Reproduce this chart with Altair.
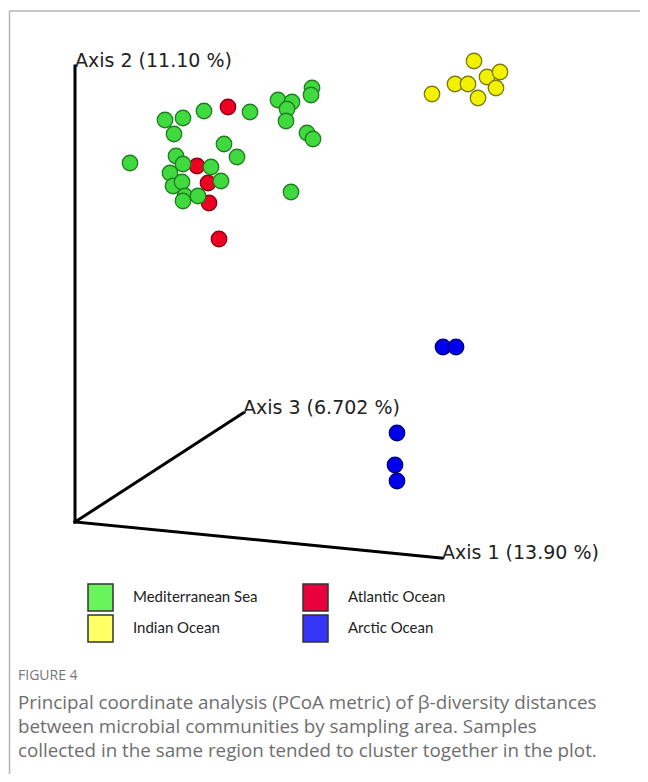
import altair as alt
import pandas as pd

# ---- data (positions) ----
groups = ["Mediterranean Sea", "Atlantic Ocean", "Indian Ocean", "Arctic Ocean"]

med_x = [312, 311, 278, 292, 287, 286, 250, 204, 183, 165, 174, 307, 313, 224, 237,
         130, 176, 183, 211, 170, 173, 182, 221, 185, 183, 198, 291]
med_y = [88, 95, 100, 102, 109, 121, 112, 111, 118, 120, 134, 133, 139, 144, 157,
         163, 156, 164, 167, 173, 186, 182, 181, 196, 201, 196, 192]
atl_x = [228, 197, 208, 209, 219]
atl_y = [107, 166, 183, 203, 239]
ind_x = [474, 432, 455, 468, 478, 487, 500, 496]
ind_y = [61, 94, 84, 84, 98, 77, 72, 88]
arc_x = [443, 456, 397, 395, 397]
arc_y = [347, 347, 433, 465, 481]

axis_names = ["Axis 1 (13.90 %)", "Axis 2 (11.10 %)", "Axis 3 (6.702 %)"]
axis_end_x = [442, 75, 243]
axis_end_y = [558, 66, 413]
origin_x = 75
origin_y = 522

caption_title = "FIGURE 4"
caption_lines = [
    "Principal coordinate analysis (PCoA metric) of \u03b2-diversity distances",
    "between microbial communities by sampling area. Samples",
    "collected in the same region tended to cluster together in the plot.",
]

# ---- styles ----
point_fill = ["#40D940", "#EE0022", "#F2F200", "#0000EE"]
point_stroke = ["#1F7F1F", "#8A0014", "#7A7A10", "#00007A"]
legend_fill = ["#68F45A", "#E8003C", "#FFFF66", "#3535F5"]

W, H = 632, 766
xs = alt.Scale(domain=[8, 8 + W], nice=False, zero=False)
ys = alt.Scale(domain=[8, 8 + H], reverse=True, nice=False, zero=False)


def px(v):
    return v - 8


rows = []
for g, xx, yy in [("Atlantic Ocean", atl_x, atl_y), ("Mediterranean Sea", med_x, med_y),
                  ("Indian Ocean", ind_x, ind_y), ("Arctic Ocean", arc_x, arc_y)]:
    for a, b in zip(xx, yy):
        rows.append({"group": g, "x": a, "y": b})
pts = pd.DataFrame(rows)

axes_df = pd.DataFrame({"name": axis_names, "x": [origin_x] * 3, "y": [origin_y] * 3,
                        "x2": axis_end_x, "y2": axis_end_y})

border = alt.Chart(pd.DataFrame({"k": ["top", "left"],
                                 "a": [1.5, 1.5], "b": [W, 1.5],
                                 "c": [3, 3], "d": [3, H]})).mark_rule(
    color="#b4b4b4", strokeWidth=1.5).encode(
    x=alt.X("a:Q", scale=None), x2="b:Q", y=alt.Y("c:Q", scale=None), y2="d:Q")

axes_lines = alt.Chart(axes_df).mark_rule(color="#000000", strokeWidth=3, strokeCap="square").encode(
    x=alt.X("x:Q", scale=xs, axis=None), y=alt.Y("y:Q", scale=ys, axis=None),
    x2="x2:Q", y2="y2:Q")

axes_text = alt.Chart(axes_df).mark_text(
    align="left", baseline="alphabetic", font="DejaVu Sans", fontSize=19,
    color="#222222", dy=1).encode(
    x=alt.X("x2:Q", scale=xs, axis=None), y=alt.Y("y2:Q", scale=ys, axis=None),
    text="name:N")

points = alt.Chart(pts).mark_circle(size=240, opacity=1, strokeWidth=1.3).encode(
    x=alt.X("x:Q", scale=xs, axis=None), y=alt.Y("y:Q", scale=ys, axis=None),
    fill=alt.Fill("group:N", scale=alt.Scale(domain=groups, range=point_fill), legend=None),
    stroke=alt.Stroke("group:N", scale=alt.Scale(domain=groups, range=point_stroke), legend=None))

# manual legend (2 x 2)
leg_layers = []
for i, g in enumerate(groups):
    col, row = i % 2, i // 2
    bx = 88 + col * 215
    by = 584 + row * 31
    one = pd.DataFrame({"label": [g]})
    leg_layers.append(alt.Chart(one).mark_rect(stroke="#333333", strokeWidth=1.5,
                                               fill=legend_fill[i]).encode(
        x=alt.value(px(bx)), x2=alt.value(px(bx + 25)),
        y=alt.value(px(by)), y2=alt.value(px(by + 27))))
    leg_layers.append(alt.Chart(one).mark_text(align="left", baseline="middle", font="Lato",
                                               fontSize=15, color="#222222").encode(
        x=alt.value(px(bx + 45)), y=alt.value(px(by + 13)), text="label:N"))

cap_x = 18
cap_layers = [alt.Chart(pd.DataFrame({"t": [caption_title]})).mark_text(
    align="left", baseline="alphabetic", font="Open Sans", fontSize=14, color="#777777").encode(
    x=alt.value(px(cap_x)), y=alt.value(px(680)), text="t:N")]
for j, line in enumerate(caption_lines):
    cap_layers.append(alt.Chart(pd.DataFrame({"t": [line]})).mark_text(
        align="left", baseline="alphabetic", font="Open Sans", fontSize=18.8, color="#6e6e6e").encode(
        x=alt.value(px(cap_x)), y=alt.value(px(709 + 24 * j)), text="t:N"))

chart = alt.layer(border, axes_lines, axes_text, points, *leg_layers, *cap_layers).properties(
    width=W, height=H, padding=0, autosize=alt.AutoSizeParams(type="none"),
    background="white").configure_view(stroke=None)

chart.save("out.html", embed_options={"renderer": "svg", "actions": False})
